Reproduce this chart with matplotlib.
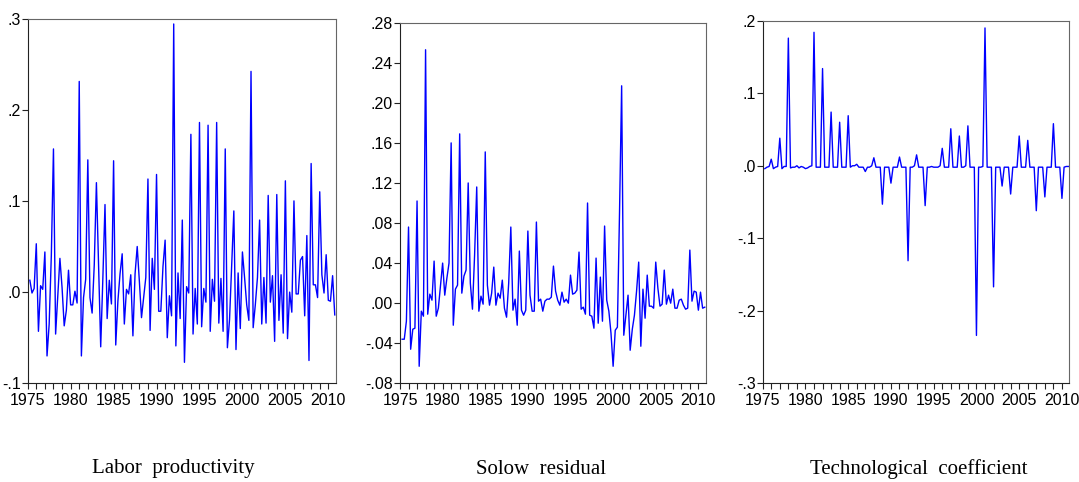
import numpy as np
import matplotlib
matplotlib.use("Agg")
import matplotlib.pyplot as plt
from matplotlib.ticker import FixedLocator, MultipleLocator

# quarterly observations 1975Q2 .. 2010Q4
labor = [0.013, -0.001, 0.004, 0.053,
         -0.043, 0.007, 0.003, 0.044,
         -0.070, -0.035, 0.040, 0.157,
         -0.046, -0.005, 0.037, 0.005,
         -0.037, -0.020, 0.024, -0.014,
         -0.014, 0.001, -0.012, 0.231,
         -0.070, -0.006, 0.014, 0.145,
         -0.006, -0.023, 0.030, 0.120,
         0.030, -0.060, 0.015, 0.096,
         -0.029, 0.013, -0.013, 0.144,
         -0.058, -0.010, 0.020, 0.042,
         -0.035, 0.003, -0.002, 0.019,
         -0.048, 0.020, 0.050, 0.012,
         -0.028, -0.006, 0.016, 0.124,
         -0.042, 0.037, 0.003, 0.129,
         -0.021, -0.021, 0.028, 0.057,
         -0.050, -0.004, -0.026, 0.294,
         -0.059, 0.021, -0.029, 0.079,
         -0.077, 0.006, -0.001, 0.173,
         -0.046, 0.004, -0.035, 0.186,
         -0.038, 0.004, -0.011, 0.183,
         -0.043, 0.014, -0.010, 0.186,
         -0.034, 0.015, -0.043, 0.157,
         -0.061, -0.030, 0.030, 0.089,
         -0.063, 0.021, -0.040, 0.044,
         0.016, -0.014, -0.031, 0.242,
         -0.039, -0.014, 0.016, 0.079,
         -0.035, 0.016, -0.034, 0.106,
         -0.011, 0.018, -0.054, 0.107,
         -0.031, 0.019, -0.045, 0.122,
         -0.051, 0.000, -0.022, 0.100,
         -0.002, -0.002, 0.035, 0.039,
         -0.026, 0.062, -0.075, 0.141,
         0.008, 0.008, -0.006, 0.110,
         0.019, -0.001, 0.041, -0.009,
         -0.010, 0.018, -0.025]

solow = [-0.036, -0.036, -0.018, 0.076,
         -0.046, -0.026, -0.025, 0.102,
         -0.063, -0.008, -0.013, 0.253,
         -0.011, 0.009, 0.003, 0.042,
         -0.013, -0.005, 0.017, 0.040,
         0.008, 0.025, 0.040, 0.160,
         -0.022, 0.014, 0.018, 0.169,
         0.010, 0.027, 0.033, 0.120,
         0.020, -0.006, 0.048, 0.116,
         -0.008, 0.007, -0.001, 0.151,
         0.018, -0.002, 0.010, 0.036,
         -0.002, 0.010, 0.005, 0.023,
         -0.005, -0.014, 0.020, 0.076,
         -0.007, 0.004, -0.022, 0.052,
         -0.007, -0.012, -0.007, 0.072,
         0.008, -0.008, -0.008, 0.081,
         0.002, 0.004, -0.008, 0.002,
         0.004, 0.004, 0.006, 0.037,
         0.012, 0.003, -0.002, 0.011,
         0.001, 0.004, 0.000, 0.028,
         0.009, 0.010, 0.013, 0.051,
         -0.006, -0.004, -0.011, 0.100,
         -0.012, -0.013, -0.025, 0.045,
         -0.020, 0.026, -0.018, 0.077,
         0.003, -0.008, -0.030, -0.063,
         -0.027, -0.024, 0.090, 0.217,
         -0.032, -0.012, 0.008, -0.047,
         -0.026, -0.012, 0.012, 0.041,
         -0.043, 0.014, -0.015, 0.028,
         -0.003, -0.003, -0.005, 0.041,
         0.015, -0.003, -0.001, 0.033,
         -0.001, 0.008, 0.000, 0.014,
         -0.005, -0.005, 0.003, 0.004,
         -0.002, -0.006, -0.005, 0.053,
         0.002, 0.012, 0.011, -0.007,
         0.011, -0.005, -0.004]

techcoef = [-0.004, -0.002, -0.001, 0.009,
            -0.004, -0.002, -0.001, 0.038,
            -0.004, -0.001, -0.001, 0.176,
            -0.003, -0.002, -0.002, 0.000,
            -0.003, -0.001, -0.002, -0.004,
            -0.003, -0.001, 0.000, 0.184,
            -0.002, -0.002, -0.002, 0.134,
            -0.002, -0.002, -0.002, 0.074,
            -0.002, -0.002, -0.002, 0.060,
            -0.002, -0.002, -0.002, 0.069,
            -0.002, 0.000, 0.000, 0.002,
            -0.002, -0.002, -0.002, -0.008,
            -0.002, -0.002, 0.000, 0.011,
            -0.002, -0.002, -0.002, -0.053,
            -0.002, -0.002, -0.002, -0.024,
            -0.002, -0.002, -0.002, 0.012,
            -0.002, -0.002, -0.002, -0.131,
            -0.002, -0.002, 0.000, 0.015,
            -0.002, -0.002, -0.002, -0.055,
            -0.002, -0.002, -0.001, -0.002,
            -0.002, -0.002, 0.000, 0.024,
            -0.002, -0.002, -0.002, 0.051,
            -0.002, -0.002, -0.002, 0.041,
            -0.002, -0.002, 0.000, 0.055,
            -0.002, -0.002, -0.002, -0.234,
            -0.002, -0.002, -0.001, 0.190,
            -0.002, -0.002, -0.002, -0.167,
            -0.002, -0.002, -0.002, -0.028,
            -0.002, -0.002, -0.002, -0.039,
            -0.002, -0.002, -0.002, 0.041,
            -0.002, -0.002, -0.002, 0.035,
            -0.002, -0.002, -0.002, -0.062,
            -0.002, -0.002, -0.002, -0.043,
            -0.002, -0.002, -0.002, 0.058,
            -0.002, -0.002, -0.002, -0.045,
            -0.002, -0.001, -0.001]

dates = 1975 + np.arange(1, len(labor) + 1) / 4.0

titles = ["Labor  productivity", "Solow  residual", "Technological  coefficient"]
xtick_years = [1975, 1980, 1985, 1990, 1995, 2000, 2005, 2010]

lp_ticks = [-0.1, 0.0, 0.1, 0.2, 0.3]
lp_labels = ["-.1", ".0", ".1", ".2", ".3"]
sr_ticks = [-0.08, -0.04, 0.0, 0.04, 0.08, 0.12, 0.16, 0.20, 0.24, 0.28]
sr_labels = ["-.08", "-.04", ".00", ".04", ".08", ".12", ".16", ".20", ".24", ".28"]
tc_ticks = [-0.3, -0.2, -0.1, 0.0, 0.1, 0.2]
tc_labels = ["-.3", "-.2", "-.1", ".0", ".1", ".2"]

tick_font = ["Liberation Sans Narrow", "Liberation Sans", "DejaVu Sans"]

W, H = 1079, 482
fig = plt.figure(figsize=(W / 100, H / 100), dpi=100)

# pixel boxes (left, top, right, bottom)
boxes = [(27.7, 18.5, 335.7, 383.3),
         (400.0, 22.7, 705.7, 383.3),
         (762.7, 20.7, 1069.3, 383.3)]
series = [labor, solow, techcoef]
yticks = [(lp_ticks, lp_labels), (sr_ticks, sr_labels), (tc_ticks, tc_labels)]
title_x = [173, 541, 919]

for box, vals, (tk, tl), title, tx in zip(boxes, series, yticks, titles, title_x):
    l, t, r, b = box
    ax = fig.add_axes([l / W, 1 - b / H, (r - l) / W, (b - t) / H])
    ax.plot(dates, vals, color="#0000ff", lw=1.0)
    ax.set_xlim(1975, 2010.86)
    ax.set_ylim(tk[0], tk[-1])
    ax.xaxis.set_major_locator(FixedLocator(xtick_years))
    ax.xaxis.set_minor_locator(MultipleLocator(1))
    ax.set_xticklabels([str(y) for y in xtick_years])
    ax.set_yticks(tk)
    ax.set_yticklabels(tl)
    ax.tick_params(axis="both", which="both", direction="out", length=4,
                   width=0.8, color="#222222")
    ax.tick_params(axis="x", which="major", pad=3)
    ax.tick_params(axis="y", pad=1)
    for lab in ax.get_xticklabels() + ax.get_yticklabels():
        lab.set_family(tick_font)
        lab.set_fontsize(11.5)
    for side in ["left", "bottom"]:
        ax.spines[side].set_color("#222222")
    for side in ["top", "right"]:
        ax.spines[side].set_color("#666666")
    fig.text(tx / W, 1 - 469 / H, title, ha="center", va="center",
             family=["Liberation Serif", "DejaVu Serif"], fontsize=15)

fig.savefig("out.png", dpi=100)
